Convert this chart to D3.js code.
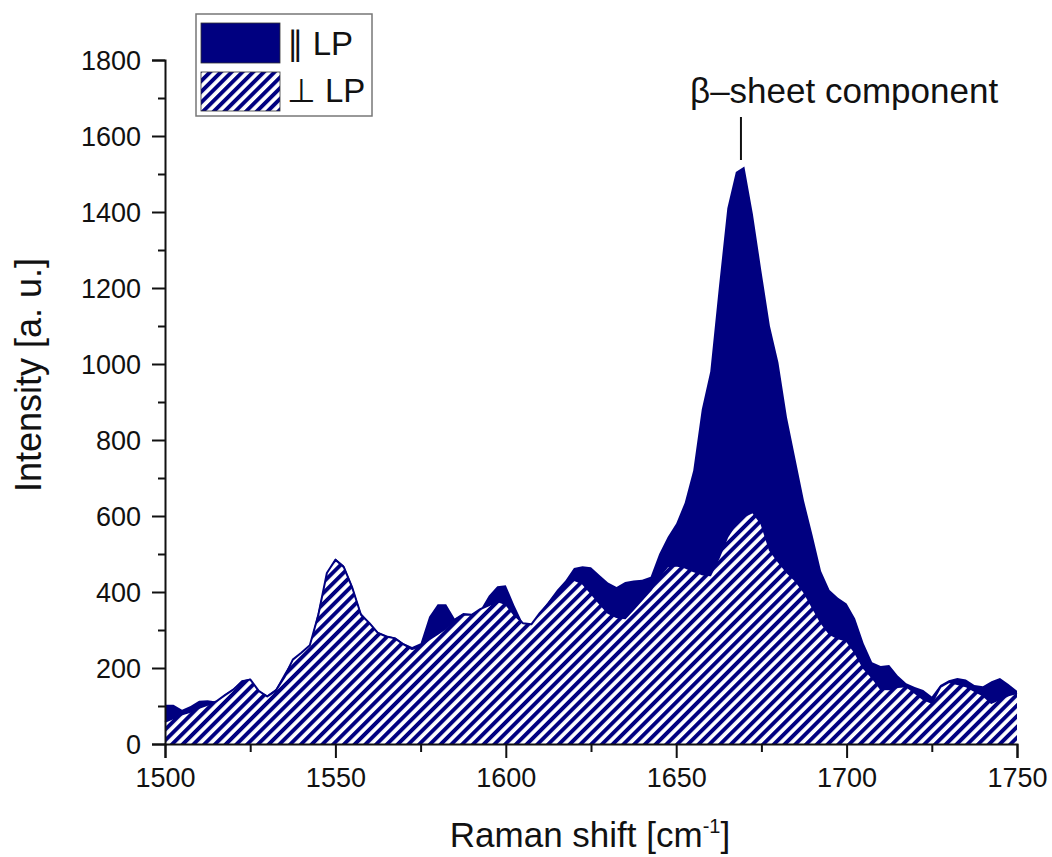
<!DOCTYPE html>
<html>
<head>
<meta charset="utf-8">
<script src="https://cdn.jsdelivr.net/npm/d3@7"></script>
<style>
  html, body { margin: 0; padding: 0; background: #fff; }
  svg { display: block; }
  text { font-family: "Liberation Sans", Arial, "DejaVu Sans", sans-serif; fill: #111; }
</style>
</head>
<body>
<svg id="chart" width="1052" height="857"></svg>
<script>
// ---- Data ----
const ramanShift = [1500,1502.5,1505,1507.5,1510,1512.5,1515,1517.5,1520,1522.5,1525,1527.5,1530,1532.5,1535,1537.5,1540,1542.5,1545,1547.5,1550,1552.5,1555,1557.5,1560,1562.5,1565,1567.5,1570,1572.5,1575,1577.5,1580,1582.5,1585,1587.5,1590,1592.5,1595,1597.5,1600,1602.5,1605,1607.5,1610,1612.5,1615,1617.5,1620,1622.5,1625,1627.5,1630,1632.5,1635,1637.5,1640,1642.5,1645,1647.5,1650,1652.5,1655,1657.5,1660,1662.5,1665,1667.5,1670,1672.5,1675,1677.5,1680,1682.5,1685,1687.5,1690,1692.5,1695,1697.5,1700,1702.5,1705,1707.5,1710,1712.5,1715,1717.5,1720,1722.5,1725,1727.5,1730,1732.5,1735,1737.5,1740,1742.5,1745,1747.5,1750];

const intensityParallel = [103,103,90,100,114,115,112,130,145,168,172,140,128,145,185,222,240,260,350,450,488,470,415,345,320,295,285,280,265,255,265,335,368,368,330,345,342,352,390,415,418,365,318,315,345,375,405,430,463,468,465,445,425,413,426,430,432,440,500,545,580,635,720,880,980,1200,1410,1505,1520,1395,1245,1100,1004,860,750,640,550,455,405,385,370,330,265,215,205,208,180,160,150,142,125,155,168,174,170,155,152,165,174,158,140];

const intensityPerpendicular = [58,68,78,85,95,103,112,128,143,163,170,140,125,140,175,222,240,260,340,450,485,465,410,340,318,292,283,278,262,250,258,275,290,305,326,340,340,355,365,376,368,340,318,315,345,370,397,420,432,423,397,370,345,334,331,355,380,405,440,468,470,465,455,447,444,490,545,580,600,610,580,510,480,452,430,400,360,320,290,278,272,240,200,175,145,144,150,152,135,118,108,150,163,158,152,140,128,108,118,128,134];

const xTicks = [1500,1550,1600,1650,1700,1750];
const xMinorTicks = [1525,1575,1625,1675,1725];
const yTicks = [0,200,400,600,800,1000,1200,1400,1600,1800];
const yMinorTicks = [100,300,500,700,900,1100,1300,1500,1700];
const seriesNames = ["\u2225 LP", "\u22A5 LP"];
const annotation = {x: 1669, label: "\u03B2\u2013sheet component"};

// ---- Layout ----
const navy = "#000080";
const svg = d3.select("#chart");
const x = d3.scaleLinear().domain([1500, 1750]).range([165, 1017]);
const y = d3.scaleLinear().domain([0, 1800]).range([744, 60]);

const defs = svg.append("defs");
const pat = defs.append("pattern")
  .attr("id", "hatch").attr("patternUnits", "userSpaceOnUse")
  .attr("width", 7.6).attr("height", 7.6)
  .attr("patternTransform", "rotate(45)");
pat.append("rect").attr("width", 7.6).attr("height", 7.6).attr("fill", "#fff");
pat.append("rect").attr("x", 0).attr("width", 3.9).attr("height", 7.6).attr("fill", navy);

const dPar = ramanShift.map((v, i) => [v, intensityParallel[i]]);
const dPerp = ramanShift.map((v, i) => [v, intensityPerpendicular[i]]);

const area = d3.area().x(d => x(d[0])).y0(y(0)).y1(d => y(d[1]));
const line = d3.line().x(d => x(d[0])).y(d => y(d[1]));

svg.append("path").datum(dPar).attr("d", area).attr("fill", navy);
svg.append("path").datum(dPerp).attr("d", area).attr("fill", "url(#hatch)");
svg.append("path").datum(dPerp).attr("d", line).attr("fill", "none")
  .attr("stroke", navy).attr("stroke-width", 2).attr("stroke-linejoin", "round");

// ---- Axes ----
const xAxis = svg.append("g").attr("transform", `translate(0,${y(0)})`)
  .call(d3.axisBottom(x).tickValues(xTicks).tickSize(14).tickPadding(10).tickFormat(d3.format("d")));
const xMinor = svg.append("g").attr("transform", `translate(0,${y(0)})`)
  .call(d3.axisBottom(x).tickValues(xMinorTicks).tickSize(8).tickFormat(""));
const yAxis = svg.append("g").attr("transform", `translate(${x(1500)},0)`)
  .call(d3.axisLeft(y).tickValues(yTicks).tickSize(13).tickPadding(11).tickFormat(d3.format("d")));
const yMinor = svg.append("g").attr("transform", `translate(${x(1500)},0)`)
  .call(d3.axisLeft(y).tickValues(yMinorTicks).tickSize(7).tickFormat(""));

[xAxis, xMinor, yAxis, yMinor].forEach(g => {
  g.select(".domain").attr("stroke", "#111").attr("stroke-width", 2);
  g.selectAll(".tick line").attr("stroke", "#111").attr("stroke-width", 2);
  g.selectAll(".tick text").attr("font-size", 27)
    .attr("font-family", "'Liberation Sans', Arial, sans-serif").attr("fill", "#111");
});
xMinor.select(".domain").remove();
yMinor.select(".domain").remove();
yAxis.selectAll(".tick text").attr("dy", "0.36em");

// ---- Titles ----
const xt = svg.append("text").attr("x", 590).attr("y", 847)
  .attr("text-anchor", "middle").attr("font-size", 35);
xt.append("tspan").text("Raman shift [cm");
xt.append("tspan").attr("font-size", 20).attr("dy", -14).text("-1");
xt.append("tspan").attr("dy", 14).text("]");

svg.append("text").attr("transform", "translate(41,375) rotate(-90)")
  .attr("text-anchor", "middle").attr("font-size", 36).text("Intensity [a. u.]");

// ---- Annotation ----
svg.append("text").attr("x", 690).attr("y", 103).attr("font-size", 35).text(annotation.label);
svg.append("line").attr("x1", x(annotation.x)).attr("x2", x(annotation.x))
  .attr("y1", 117).attr("y2", 160).attr("stroke", "#111").attr("stroke-width", 2);

// ---- Legend ----
const lg = svg.append("g");
lg.append("rect").attr("x", 196).attr("y", 14).attr("width", 176).attr("height", 102)
  .attr("fill", "#fff").attr("stroke", "#777").attr("stroke-width", 1.5);
lg.append("rect").attr("x", 201).attr("y", 23).attr("width", 79).attr("height", 40)
  .attr("fill", navy).attr("stroke", "#333").attr("stroke-width", 0.8);
lg.append("rect").attr("x", 201).attr("y", 72).attr("width", 79).attr("height", 39)
  .attr("fill", "url(#hatch)").attr("stroke", "#333").attr("stroke-width", 0.8);
lg.append("text").attr("x", 287).attr("y", 55).attr("font-size", 33).text(seriesNames[0]);
lg.append("text").attr("x", 287).attr("y", 102).attr("font-size", 33).text(seriesNames[1]);
</script>
</body>
</html>
